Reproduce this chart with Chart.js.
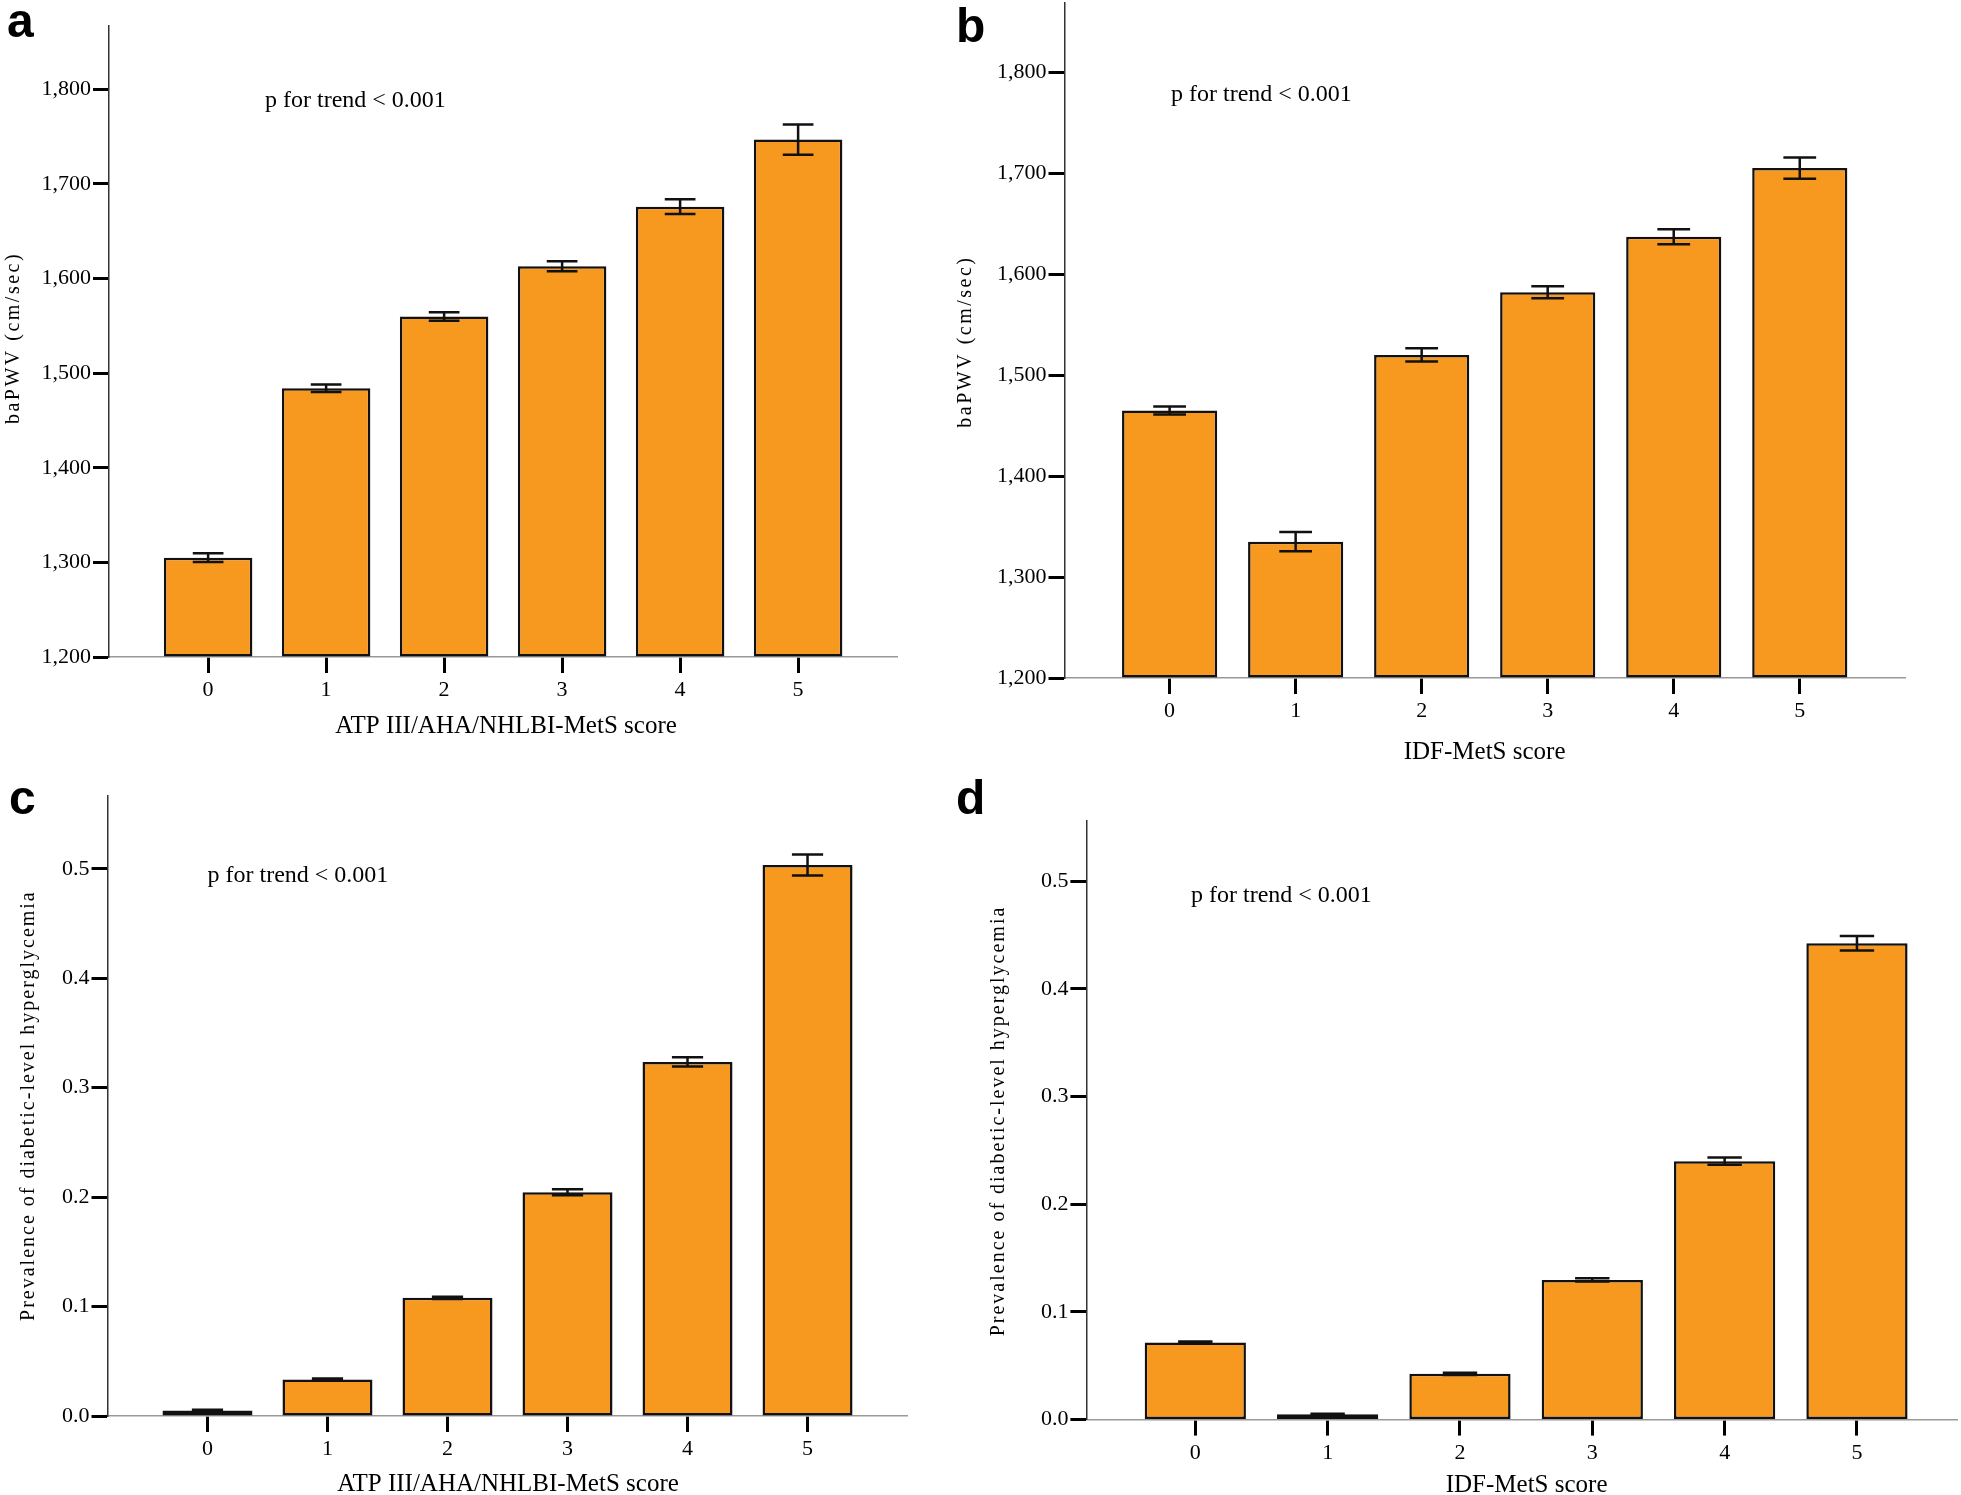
<!DOCTYPE html>
<html>
<head>
<meta charset="utf-8">
<title>baPWV and diabetic-level hyperglycemia by MetS score</title>
<script src="https://cdn.jsdelivr.net/npm/chart.js@4.4.1/dist/chart.umd.min.js"></script>
<style>
  body { margin: 0; background: #fff; }
  #wrap { position: relative; width: 1961px; height: 1495px; }
  canvas { position: absolute; }
</style>
</head>
<body>
<div id="wrap">
  <canvas id="chartA" width="940" height="770" style="left:0;top:0"></canvas>
  <canvas id="chartB" width="1021" height="770" style="left:940px;top:0"></canvas>
  <canvas id="chartC" width="940" height="725" style="left:0;top:770px"></canvas>
  <canvas id="chartD" width="1021" height="725" style="left:940px;top:770px"></canvas>
</div>

<script>
  // data
  const scores = [0, 1, 2, 3, 4, 5];

  const pwvAtp    = [1305, 1484, 1560, 1613, 1676, 1747];
  const pwvAtpErr = [4.7, 4, 4.5, 5.3, 7.8, 16];
  const pwvIdf    = [1465, 1335, 1520, 1582, 1637, 1705];
  const pwvIdfErr = [4, 9.5, 6.5, 6, 7.5, 10.5];

  const dmAtp    = [0.005, 0.0334, 0.108, 0.2044, 0.3235, 0.5034];
  const dmAtpErr = [0.0006, 0.0008, 0.001, 0.0027, 0.0042, 0.0095];
  const dmIdf    = [0.0717, 0.005, 0.0425, 0.1297, 0.240, 0.4424];
  const dmIdfErr = [0.0008, 0.0005, 0.001, 0.0015, 0.0034, 0.0067];

  const pwvTicks  = [1200, 1300, 1400, 1500, 1600, 1700, 1800];
  const prevTicks = [0, 0.1, 0.2, 0.3, 0.4, 0.5];

  const SERIF = "'Liberation Serif', 'Times New Roman', serif";
  const SANS = "'Liberation Sans', Arial, sans-serif";
  const NOTE = "p for trend < 0.001";

  function makePanel(id, p) {
    const canvas = document.getElementById(id);
    const W = canvas.width, H = canvas.height;
    const xAxisH = 50;

    const errorBars = {
      id: 'errorBars',
      afterDatasetsDraw(chart) {
        const ctx = chart.ctx, x = chart.scales.x, y = chart.scales.y;
        ctx.save();
        ctx.strokeStyle = '#111';
        ctx.lineWidth = 2.5;
        p.values.forEach((v, i) => {
          const cx = x.getPixelForValue(scores[i]);
          const half = (x.getPixelForValue(scores[i] + 0.13) - x.getPixelForValue(scores[i] - 0.13)) / 2;
          const yHi = y.getPixelForValue(v + p.errors[i]);
          const yLo = y.getPixelForValue(v - p.errors[i]);
          ctx.beginPath();
          ctx.moveTo(cx, yHi); ctx.lineTo(cx, yLo);
          ctx.moveTo(cx - half, yHi); ctx.lineTo(cx + half, yHi);
          ctx.moveTo(cx - half, yLo); ctx.lineTo(cx + half, yLo);
          ctx.stroke();
        });
        ctx.restore();
      }
    };

    const labels = {
      id: 'labels',
      afterDraw(chart) {
        const ctx = chart.ctx;
        ctx.save();
        ctx.fillStyle = '#000';

        // panel letter
        ctx.font = 'bold 48px ' + SANS;
        ctx.textAlign = 'left';
        ctx.textBaseline = 'alphabetic';
        ctx.fillText(p.letter, p.letterX, p.letterY);

        // p for trend note
        ctx.font = '24px ' + SERIF;
        ctx.fillText(NOTE, p.noteX, p.noteY);

        // x axis title
        ctx.font = '25px ' + SERIF;
        ctx.textAlign = 'center';
        ctx.fillText(p.xTitle, p.xTitleX, p.xTitleY);

        // y axis title, rotated, letter-spaced
        ctx.translate(p.yTitleX, p.yTitleY);
        ctx.rotate(-Math.PI / 2);
        ctx.font = '20px ' + SERIF;
        ctx.letterSpacing = p.yTitleSpacing + 'px';
        ctx.textBaseline = 'middle';
        ctx.fillText(p.yTitle, 0, 0);
        ctx.restore();
      }
    };

    return new Chart(canvas, {
      type: 'bar',
      data: {
        datasets: [{
          data: scores.map((s, i) => ({ x: s, y: p.values[i] })),
          backgroundColor: '#F7991E',
          borderColor: '#111',
          borderWidth: 2.5,
          borderSkipped: false,
          base: p.yMin,
          barPercentage: p.barPct,
          categoryPercentage: 1
        }]
      },
      options: {
        responsive: false,
        animation: false,
        layout: { padding: { left: 0, top: p.area.top, right: W - p.area.right, bottom: H - p.area.bottom - xAxisH } },
        plugins: { legend: { display: false }, tooltip: { enabled: false } },
        scales: {
          x: {
            type: 'linear',
            offset: false,
            min: p.xMin,
            max: p.xMax,
            afterBuildTicks: s => { s.ticks = scores.map(v => ({ value: v })); },
            afterFit: s => { s.height = xAxisH; s.paddingLeft = 0; s.paddingRight = 0; },
            grid: { offset: false, drawOnChartArea: false, tickLength: 16, tickWidth: 3, tickColor: '#000' },
            border: { color: '#999', width: 1.5 },
            ticks: { font: { family: SERIF, size: 22 }, color: '#000', padding: 4, maxRotation: 0, autoSkip: false }
          },
          y: {
            min: p.yMin,
            max: p.yMax,
            afterBuildTicks: s => { s.ticks = p.yTicks.map(v => ({ value: v })); },
            afterFit: s => { s.width = p.area.left; s.paddingTop = 0; s.paddingBottom = 0; },
            grid: { drawOnChartArea: false, tickLength: 16, tickWidth: 3, tickColor: '#000' },
            border: { color: '#333', width: 1.5 },
            ticks: { font: { family: SERIF, size: 22 }, color: '#000', padding: 2, callback: p.fmt }
          }
        }
      },
      plugins: [errorBars, labels]
    });
  }

  const fmtPwv = v => v.toLocaleString('en-US');
  const fmtPrev = v => v.toFixed(1);

  makePanel('chartA', {
    letter: 'a', letterX: 7, letterY: 37,
    values: pwvAtp, errors: pwvAtpErr,
    yMin: 1200, yMax: 1867, yTicks: pwvTicks, fmt: fmtPwv,
    xMin: -0.84, xMax: 5.838, barPct: 0.75,
    area: { left: 109, top: 26, right: 897, bottom: 657 },
    noteX: 265, noteY: 107,
    xTitle: 'ATP III/AHA/NHLBI-MetS score', xTitleX: 506, xTitleY: 733,
    yTitle: 'baPWV (cm/sec)', yTitleX: 14, yTitleY: 338, yTitleSpacing: 2.5
  });

  makePanel('chartB', {
    letter: 'b', letterX: 16, letterY: 42,
    values: pwvIdf, errors: pwvIdfErr,
    yMin: 1200, yMax: 1869, yTicks: pwvTicks, fmt: fmtPwv,
    xMin: -0.834, xMax: 5.835, barPct: 0.755,
    area: { left: 124.5, top: 2.5, right: 965, bottom: 678 },
    noteX: 231, noteY: 101,
    xTitle: 'IDF-MetS score', xTitleX: 544.6, xTitleY: 759,
    yTitle: 'baPWV (cm/sec)', yTitleX: 26, yTitleY: 341.6, yTitleSpacing: 2.5
  });

  makePanel('chartC', {
    letter: 'c', letterX: 9, letterY: 44,
    values: dmAtp, errors: dmAtpErr,
    yMin: 0, yMax: 0.567, yTicks: prevTicks, fmt: fmtPrev,
    xMin: -0.833, xMax: 5.833, barPct: 0.75,
    area: { left: 107.5, top: 25.4, right: 907.5, bottom: 646 },
    noteX: 207.5, noteY: 111.6,
    xTitle: 'ATP III/AHA/NHLBI-MetS score', xTitleX: 508, xTitleY: 721,
    yTitle: 'Prevalence of diabetic-level hyperglycemia', yTitleX: 29, yTitleY: 335.6, yTitleSpacing: 2
  });

  makePanel('chartD', {
    letter: 'd', letterX: 16, letterY: 44,
    values: dmIdf, errors: dmIdfErr,
    yMin: 0, yMax: 0.556, yTicks: prevTicks, fmt: fmtPrev,
    xMin: -0.823, xMax: 5.756, barPct: 0.765,
    area: { left: 146.4, top: 50.9, right: 1017, bottom: 649.6 },
    noteX: 251, noteY: 131.5,
    xTitle: 'IDF-MetS score', xTitleX: 586.6, xTitleY: 722,
    yTitle: 'Prevalence of diabetic-level hyperglycemia', yTitleX: 59, yTitleY: 351, yTitleSpacing: 2
  });
</script>
</body>
</html>
